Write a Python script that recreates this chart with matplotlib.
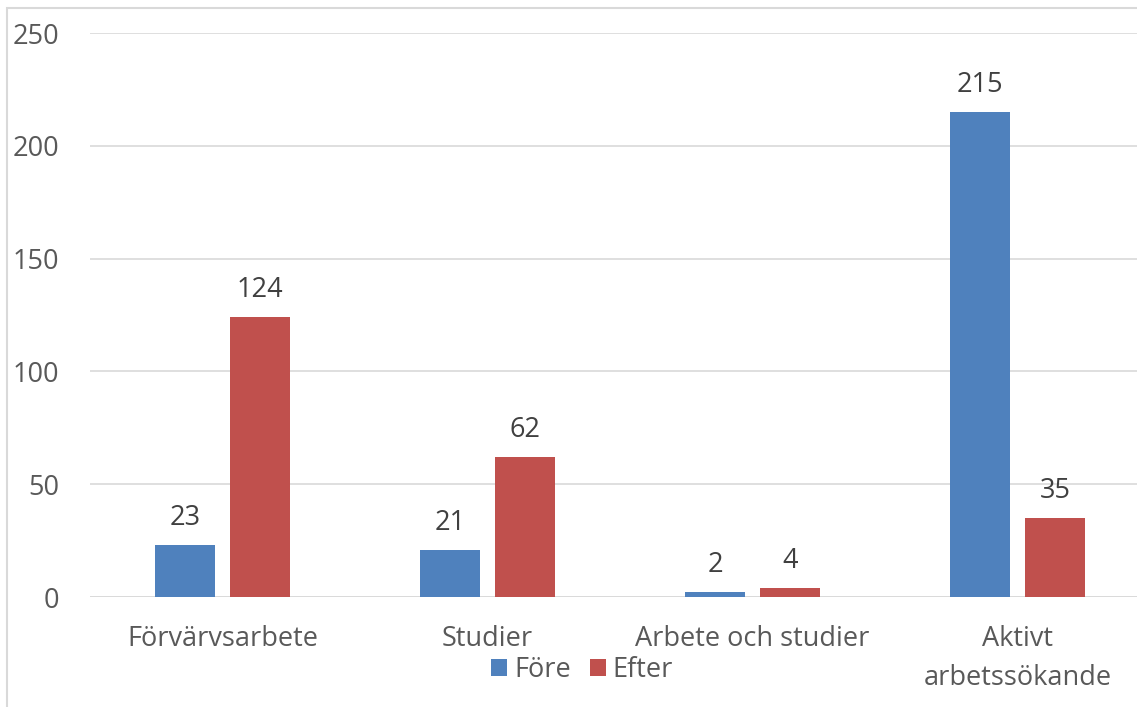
import numpy as np
import matplotlib
matplotlib.use("Agg")
import matplotlib.pyplot as plt
from matplotlib.patches import Rectangle

categories = ["Förvärvsarbete", "Studier", "Arbete och studier", "Aktivt\narbetssökande"]
fore = [23, 21, 2, 215]
efter = [124, 62, 4, 35]
yticks = [0, 50, 100, 150, 200, 250]

BLUE = "#4F81BD"
RED = "#C0504D"
GRAY = "#595959"

plt.rcParams["font.family"] = ["Open Sans", "DejaVu Sans"]

fig = plt.figure(figsize=(11.37, 7.07), dpi=100)
ax = fig.add_axes([90 / 1137, 110 / 707, 1060 / 1137, 564 / 707])

x = np.arange(len(categories))
w = 0.223
off = 0.1415
b1 = ax.bar(x - off, fore, w, color=BLUE, label="Före", zorder=3)
b2 = ax.bar(x + off, efter, w, color=RED, label="Efter", zorder=3)

for bars, vals in ((b1, fore), (b2, efter)):
    for r, v in zip(bars, vals):
        ax.annotate(str(v), (r.get_x() + r.get_width() / 2, v), xytext=(0, 19.5),
                    textcoords="offset points", ha="center", va="center",
                    fontsize=19.5, color="#404040")

ax.set_xlim(-0.5, len(categories) - 0.5)
ax.set_ylim(0, 250)
ax.set_yticks(yticks)
ax.set_xticks(x)
ax.set_xticklabels(categories, fontsize=19.5, color=GRAY, linespacing=1.55)
ax.tick_params(axis="y", labelsize=19.5, labelcolor=GRAY, length=0, pad=22)
ax.tick_params(axis="x", length=0, pad=20)
ax.grid(axis="y", color="#D9D9D9", linewidth=1.2, zorder=0)
for s in ax.spines.values():
    s.set_visible(False)
ax.axhline(0, color="#D9D9D9", linewidth=1.2, zorder=1)

leg = fig.legend(loc="center", bbox_to_anchor=(582 / 1137, 1 - 670 / 707), ncol=2,
                 frameon=False, fontsize=19.5, handlelength=0.6, handleheight=0.6,
                 handletextpad=0.25, columnspacing=0.7, labelcolor=GRAY)

# outer chart frame (partially cropped)
fig.add_artist(Rectangle((7 / 1137, -0.1), 1.2, 1 - 8 / 707 + 0.1,
                         transform=fig.transFigure, fill=False,
                         edgecolor="#D9D9D9", linewidth=1.5))

fig.savefig("out.png", dpi=100, facecolor="white")
